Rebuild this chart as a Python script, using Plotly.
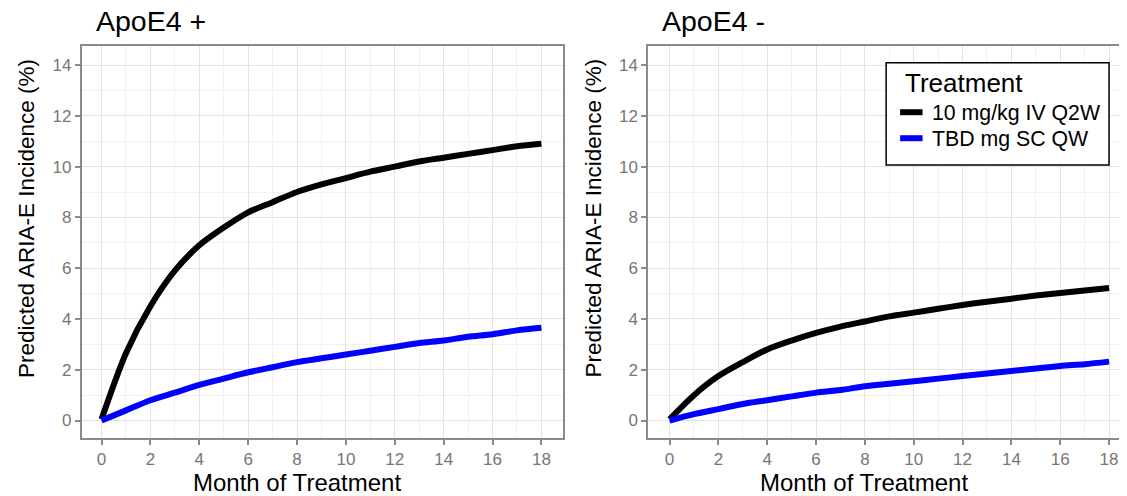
import plotly.graph_objects as go

W, H = 1127, 496
OFF = 8  # the page body has an 8px margin; positions below are page pixels

months = list(range(0, 19))

pos_iv = [0.05, 2.65, 4.5, 5.9, 6.9, 7.6, 8.2, 8.6, 9.0, 9.3, 9.55, 9.8, 10.0, 10.2, 10.35, 10.5, 10.65, 10.8, 10.9]
pos_sc = [0.0, 0.4, 0.8, 1.1, 1.4, 1.65, 1.9, 2.1, 2.3, 2.45, 2.6, 2.75, 2.9, 3.05, 3.15, 3.3, 3.4, 3.55, 3.65]
neg_iv = [0.05, 1.0, 1.75, 2.3, 2.8, 3.15, 3.45, 3.7, 3.9, 4.1, 4.25, 4.4, 4.55, 4.68, 4.8, 4.92, 5.02, 5.12, 5.22]
neg_sc = [0.0, 0.25, 0.45, 0.65, 0.8, 0.95, 1.1, 1.2, 1.35, 1.45, 1.55, 1.65, 1.75, 1.85, 1.95, 2.05, 2.15, 2.22, 2.32]

treatments = ["10 mg/kg IV Q2W", "TBD mg SC QW"]
colors = ["#000000", "#0000FF"]
panel_titles = ["ApoE4 +", "ApoE4 -"]
x_title = "Month of Treatment"
y_title = "Predicted ARIA-E Incidence (%)"
legend_title = "Treatment"
x_ticks = list(range(0, 19, 2))
y_ticks = list(range(0, 15, 2))

FONT = "Liberation Sans, Arial, sans-serif"

fig = go.Figure()
for ax, (iv, sc) in zip(["", "2"], [(pos_iv, pos_sc), (neg_iv, neg_sc)]):
    for name, col, vals in zip(treatments, colors, [iv, sc]):
        fig.add_trace(go.Scatter(
            x=months, y=vals, mode="lines", name=name, legendgroup=name,
            line=dict(color=col, width=6, shape="spline", smoothing=0.8),
            xaxis="x" + ax, yaxis="y" + ax,
            showlegend=False,
        ))

def fx(v):
    return (v - OFF) / W

def fy(v):
    return 1 - (v - OFF) / H

ydom = [fy(438.3), fy(46)]
common_axis = dict(
    showgrid=True, gridcolor="#E3E3E3", gridwidth=1,
    zeroline=False, showline=True, linecolor="#8A8A8A", linewidth=1.5,
    ticks="outside", ticklen=5, tickwidth=1.5, tickcolor="#8A8A8A",
    tickfont=dict(family=FONT, size=17, color="#767676"),
    minor=dict(dtick=1, showgrid=True, gridcolor="#F1F1F1", gridwidth=1),
)

fig.update_layout(
    width=W, height=H,
    margin=dict(l=0, r=0, t=0, b=0),
    paper_bgcolor="white", plot_bgcolor="white",
    xaxis=dict(domain=[fx(81.7), fx(564)], range=[-0.817, 18.885],
               tickvals=x_ticks, mirror=True, anchor="y", **common_axis),
    yaxis=dict(domain=ydom, range=[-0.7, 14.75], tickvals=y_ticks,
               mirror=True, anchor="x", **common_axis),
    xaxis2=dict(domain=[fx(649.3), 1.0], range=[-0.875, 18.98],
                tickvals=x_ticks, mirror=True, anchor="y2", **common_axis),
    yaxis2=dict(domain=ydom, range=[-0.7, 14.75], tickvals=y_ticks,
                mirror=True, anchor="x2", **common_axis),
    showlegend=False,
    font=dict(family=FONT),
)

annotations = []
shapes = []
for i, t in enumerate(panel_titles):
    off = i * 567.6
    annotations.append(dict(
        text=t, x=fx(94 + off), y=fy(21), xref="paper", yref="paper",
        xanchor="left", yanchor="middle", showarrow=False,
        font=dict(family=FONT, size=28.5, color="#000000")))
    annotations.append(dict(
        text=x_title, x=fx(297.5 + off), y=fy(482), xref="paper", yref="paper",
        xanchor="center", yanchor="middle", showarrow=False,
        font=dict(family=FONT, size=24, color="#000000")))
    annotations.append(dict(
        text=y_title, x=fx(27 + off), y=fy(218), xref="paper", yref="paper",
        xanchor="center", yanchor="middle", showarrow=False, textangle=-90,
        font=dict(family=FONT, size=22.5, color="#000000")))

# Legend (drawn as a framed key inside the right panel)
LX0, LX1, LY0, LY1 = 887.7, 1111, 62.7, 165
shapes.append(dict(type="rect", xref="paper", yref="paper",
                   x0=fx(LX0), x1=fx(LX1), y0=fy(LY1), y1=fy(LY0),
                   line=dict(color="#000000", width=1.5), fillcolor="white",
                   layer="above"))
annotations.append(dict(
    text=legend_title, x=fx(LX0 + 17), y=fy(LY0 + 20), xref="paper", yref="paper",
    xanchor="left", yanchor="middle", showarrow=False,
    font=dict(family=FONT, size=26, color="#000000")))
for k, (name, col) in enumerate(zip(treatments, colors)):
    yrow = LY0 + 49.5 + k * 26
    shapes.append(dict(type="line", xref="paper", yref="paper",
                       x0=fx(LX0 + 14), x1=fx(LX0 + 36.5), y0=fy(yrow), y1=fy(yrow),
                       line=dict(color=col, width=6), layer="above"))
    annotations.append(dict(
        text=name, x=fx(LX0 + 43.5), y=fy(yrow + 0.5), xref="paper", yref="paper",
        xanchor="left", yanchor="middle", showarrow=False,
        font=dict(family=FONT, size=21.3, color="#000000")))

fig.update_layout(annotations=annotations, shapes=shapes)

fig.write_html("out.html")
